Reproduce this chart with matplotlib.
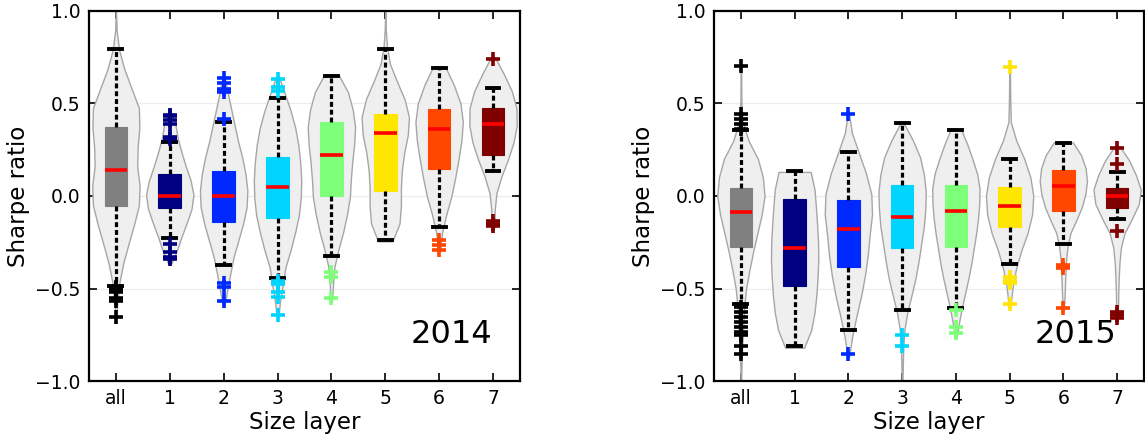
import numpy as np
import matplotlib
matplotlib.use("Agg")
import matplotlib.pyplot as plt
from matplotlib import cm

# ---------------------------------------------------------------- data
categories = ["all", "1", "2", "3", "4", "5", "6", "7"]
years = ["2014", "2015"]

# box-plot summaries, one entry per category
q1_2014 = [-0.054, -0.063, -0.139, -0.121, 0.000, 0.027, 0.144, 0.222]
med_2014 = [0.140, 0.000, 0.000, 0.050, 0.223, 0.342, 0.364, 0.389]
q3_2014 = [0.375, 0.117, 0.137, 0.213, 0.402, 0.443, 0.470, 0.474]
whislo_2014 = [-0.485, -0.225, -0.373, -0.441, -0.323, -0.238, -0.169, 0.137]
whishi_2014 = [0.795, 0.294, 0.400, 0.531, 0.649, 0.793, 0.694, 0.586]
fliers_2014 = [
    [-0.49, -0.50, -0.52, -0.553, -0.566, -0.652],
    [0.31, 0.32, 0.39, 0.41, 0.43, 0.44, -0.26, -0.30, -0.33, -0.34],
    [0.414, 0.564, 0.58, 0.61, 0.64, -0.472, -0.49, -0.568],
    [0.57, 0.59, 0.632, -0.46, -0.477, -0.517, -0.544, -0.643],
    [-0.41, -0.436, -0.553],
    [],
    [-0.238, -0.265, -0.292],
    [0.74, -0.133, -0.151, -0.162],
]

q1_2015 = [-0.274, -0.485, -0.382, -0.279, -0.274, -0.166, -0.081, -0.067]
med_2015 = [-0.088, -0.281, -0.177, -0.114, -0.081, -0.056, 0.056, -0.002]
q3_2015 = [0.045, -0.016, -0.022, 0.059, 0.059, 0.050, 0.142, 0.045]
whislo_2015 = [-0.584, -0.813, -0.724, -0.616, -0.607, -0.368, -0.259, -0.124]
whishi_2015 = [0.357, 0.137, 0.240, 0.393, 0.355, 0.198, 0.286, 0.132]
fliers_2015 = [
    [0.70, 0.441, 0.414, 0.389, 0.36, -0.598, -0.625, -0.652, -0.679,
     -0.706, -0.733, -0.751, -0.809, -0.856],
    [],
    [0.441, -0.856],
    [-0.751, -0.809],
    [-0.616, -0.706, -0.742],
    [0.695, -0.436, -0.459, -0.472, -0.584],
    [-0.373, -0.391, -0.607],
    [0.261, 0.173, -0.187, -0.625, -0.643, -0.661],
]

# kernel-density profiles: (lowest value, highest value) and relative
# density sampled evenly between them
kde_range_2014 = [(-0.68, 1.0), (-0.37, 0.46), (-0.60, 0.66), (-0.67, 0.65),
                  (-0.57, 0.655), (-0.245, 1.0), (-0.30, 0.70), (-0.17, 0.75)]
kde_dens_2014 = [
    [0.01, 0.06, 0.14, 0.30, 0.52, 0.75, 0.95, 0.98, 0.88, 0.90, 0.97, 0.95,
     0.65, 0.35, 0.13, 0.03, 0.005],
    [0.05, 0.30, 0.50, 0.72, 0.92, 1.00, 0.88, 0.68, 0.50, 0.34, 0.24, 0.03],
    [0.03, 0.15, 0.28, 0.42, 0.62, 0.82, 0.97, 1.00, 0.92, 0.78, 0.60, 0.45,
     0.30, 0.15, 0.02],
    [0.02, 0.10, 0.22, 0.33, 0.55, 0.74, 0.90, 0.98, 1.00, 0.96, 0.88, 0.75,
     0.55, 0.30, 0.04],
    [0.02, 0.07, 0.13, 0.30, 0.50, 0.66, 0.78, 0.82, 0.88, 0.96, 1.00, 0.90,
     0.70, 0.30],
    [0.30, 0.60, 0.66, 0.66, 0.70, 0.80, 0.95, 1.00, 0.82, 0.50, 0.20, 0.07,
     0.02, 0.005],
    [0.04, 0.12, 0.30, 0.52, 0.68, 0.82, 0.94, 1.00, 0.90, 0.62, 0.25],
    [0.06, 0.07, 0.14, 0.35, 0.62, 0.85, 0.98, 0.97, 0.78, 0.45, 0.08],
]

kde_range_2015 = [(-1.0, 0.70), (-0.82, 0.13), (-0.87, 0.45), (-1.0, 0.395),
                  (-0.76, 0.36), (-0.60, 0.70), (-0.62, 0.29), (-0.67, 0.27)]
kde_dens_2015 = [
    [0.01, 0.03, 0.06, 0.10, 0.14, 0.22, 0.36, 0.52, 0.70, 0.88, 1.00, 0.93,
     0.72, 0.32, 0.08, 0.02, 0.015, 0.01],
    [0.40, 0.70, 0.84, 0.92, 0.97, 1.00, 0.99, 0.95, 0.90, 0.84, 0.68],
    [0.03, 0.16, 0.34, 0.54, 0.70, 0.82, 0.90, 1.00, 0.97, 0.75, 0.45, 0.15,
     0.02],
    [0.015, 0.03, 0.05, 0.10, 0.22, 0.40, 0.57, 0.70, 0.81, 0.92, 0.98, 1.00,
     0.92, 0.76, 0.45, 0.06],
    [0.04, 0.14, 0.26, 0.40, 0.54, 0.66, 0.76, 0.86, 0.94, 0.99, 1.00, 0.90,
     0.70, 0.48, 0.22],
    [0.03, 0.12, 0.26, 0.48, 0.76, 0.95, 1.00, 0.88, 0.62, 0.28, 0.05, 0.03,
     0.02, 0.015],
    [0.02, 0.05, 0.07, 0.09, 0.12, 0.18, 0.30, 0.55, 0.78, 0.93, 1.00, 0.94,
     0.75, 0.40],
    [0.02, 0.04, 0.05, 0.07, 0.10, 0.16, 0.31, 0.62, 0.90, 0.98, 0.78, 0.50,
     0.10],
]

panels = {
    "2014": (q1_2014, med_2014, q3_2014, whislo_2014, whishi_2014,
             fliers_2014, kde_range_2014, kde_dens_2014),
    "2015": (q1_2015, med_2015, q3_2015, whislo_2015, whishi_2015,
             fliers_2015, kde_range_2015, kde_dens_2015),
}

# ---------------------------------------------------------------- style
jet7 = [cm.jet(v) for v in np.linspace(0, 1, 7)]
box_colors = ["#808080"] + jet7
flier_colors = ["black"] + jet7
positions = np.arange(1, len(categories) + 1)

fig = plt.figure(figsize=(11.45, 4.37), dpi=100)
axes = [fig.add_axes([0.0777, 0.128, 0.3764, 0.847]),
        fig.add_axes([0.6236, 0.128, 0.3755, 0.847])]

for ax, year in zip(axes, years):
    q1, med, q3, wlo, whi, fl, kr, kd = panels[year]

    # violins
    vpstats = []
    for (lo, hi), dens, m in zip(kr, kd, med):
        coords = np.linspace(lo, hi, len(dens))
        vpstats.append(dict(coords=coords, vals=np.array(dens), mean=m,
                            median=m, min=lo, max=hi))
    vp = ax.violin(vpstats, positions=positions, widths=0.88,
                   showmeans=False, showextrema=False, showmedians=False)
    for body in vp["bodies"]:
        body.set_facecolor("#efefef")
        body.set_edgecolor("#a6a6a6")
        body.set_linewidth(1.0)
        body.set_alpha(1.0)
        body.set_zorder(1)

    # boxes
    bstats = []
    for i in range(len(categories)):
        bstats.append(dict(q1=q1[i], med=med[i], q3=q3[i], whislo=wlo[i],
                           whishi=whi[i], fliers=fl[i], label=categories[i]))
    bp = ax.bxp(bstats, positions=positions, widths=0.42, patch_artist=True,
                capwidths=0.24, manage_ticks=False,
                whiskerprops=dict(color="black", linewidth=2.3,
                                  linestyle=(0, (1.55, 0.9))),
                capprops=dict(color="black", linewidth=2.8),
                medianprops=dict(color="red", linewidth=2.6),
                flierprops=dict(marker="+", markersize=10,
                                markeredgewidth=2.6, linestyle="none"),
                zorder=3)
    for box, flier, bc, fc in zip(bp["boxes"], bp["fliers"], box_colors,
                                  flier_colors):
        box.set_facecolor(bc)
        box.set_edgecolor(bc)
        box.set_linewidth(0.8)
        flier.set_markeredgecolor(fc)
        flier.set_markerfacecolor(fc)

    ax.set_xlim(0.5, 8.5)
    ax.set_ylim(-1.0, 1.0)
    ax.set_xticks(positions)
    ax.set_xticklabels(categories)
    ax.set_yticks([-1.0, -0.5, 0.0, 0.5, 1.0])
    ax.yaxis.grid(True, color="#ececec", linewidth=0.9)
    ax.set_axisbelow(True)
    ax.tick_params(direction="in", top=True, right=True, length=6,
                   width=1.2, labelsize=13.5, pad=6)
    for sp in ax.spines.values():
        sp.set_linewidth(1.6)
    ax.set_xlabel("Size layer", fontsize=16.5, labelpad=2)
    ax.set_ylabel("Sharpe ratio", fontsize=16.5, labelpad=4)
    ax.text(0.935, 0.103, year, transform=ax.transAxes, ha="right",
            va="baseline", fontsize=23)

fig.savefig("out.png", dpi=100)
